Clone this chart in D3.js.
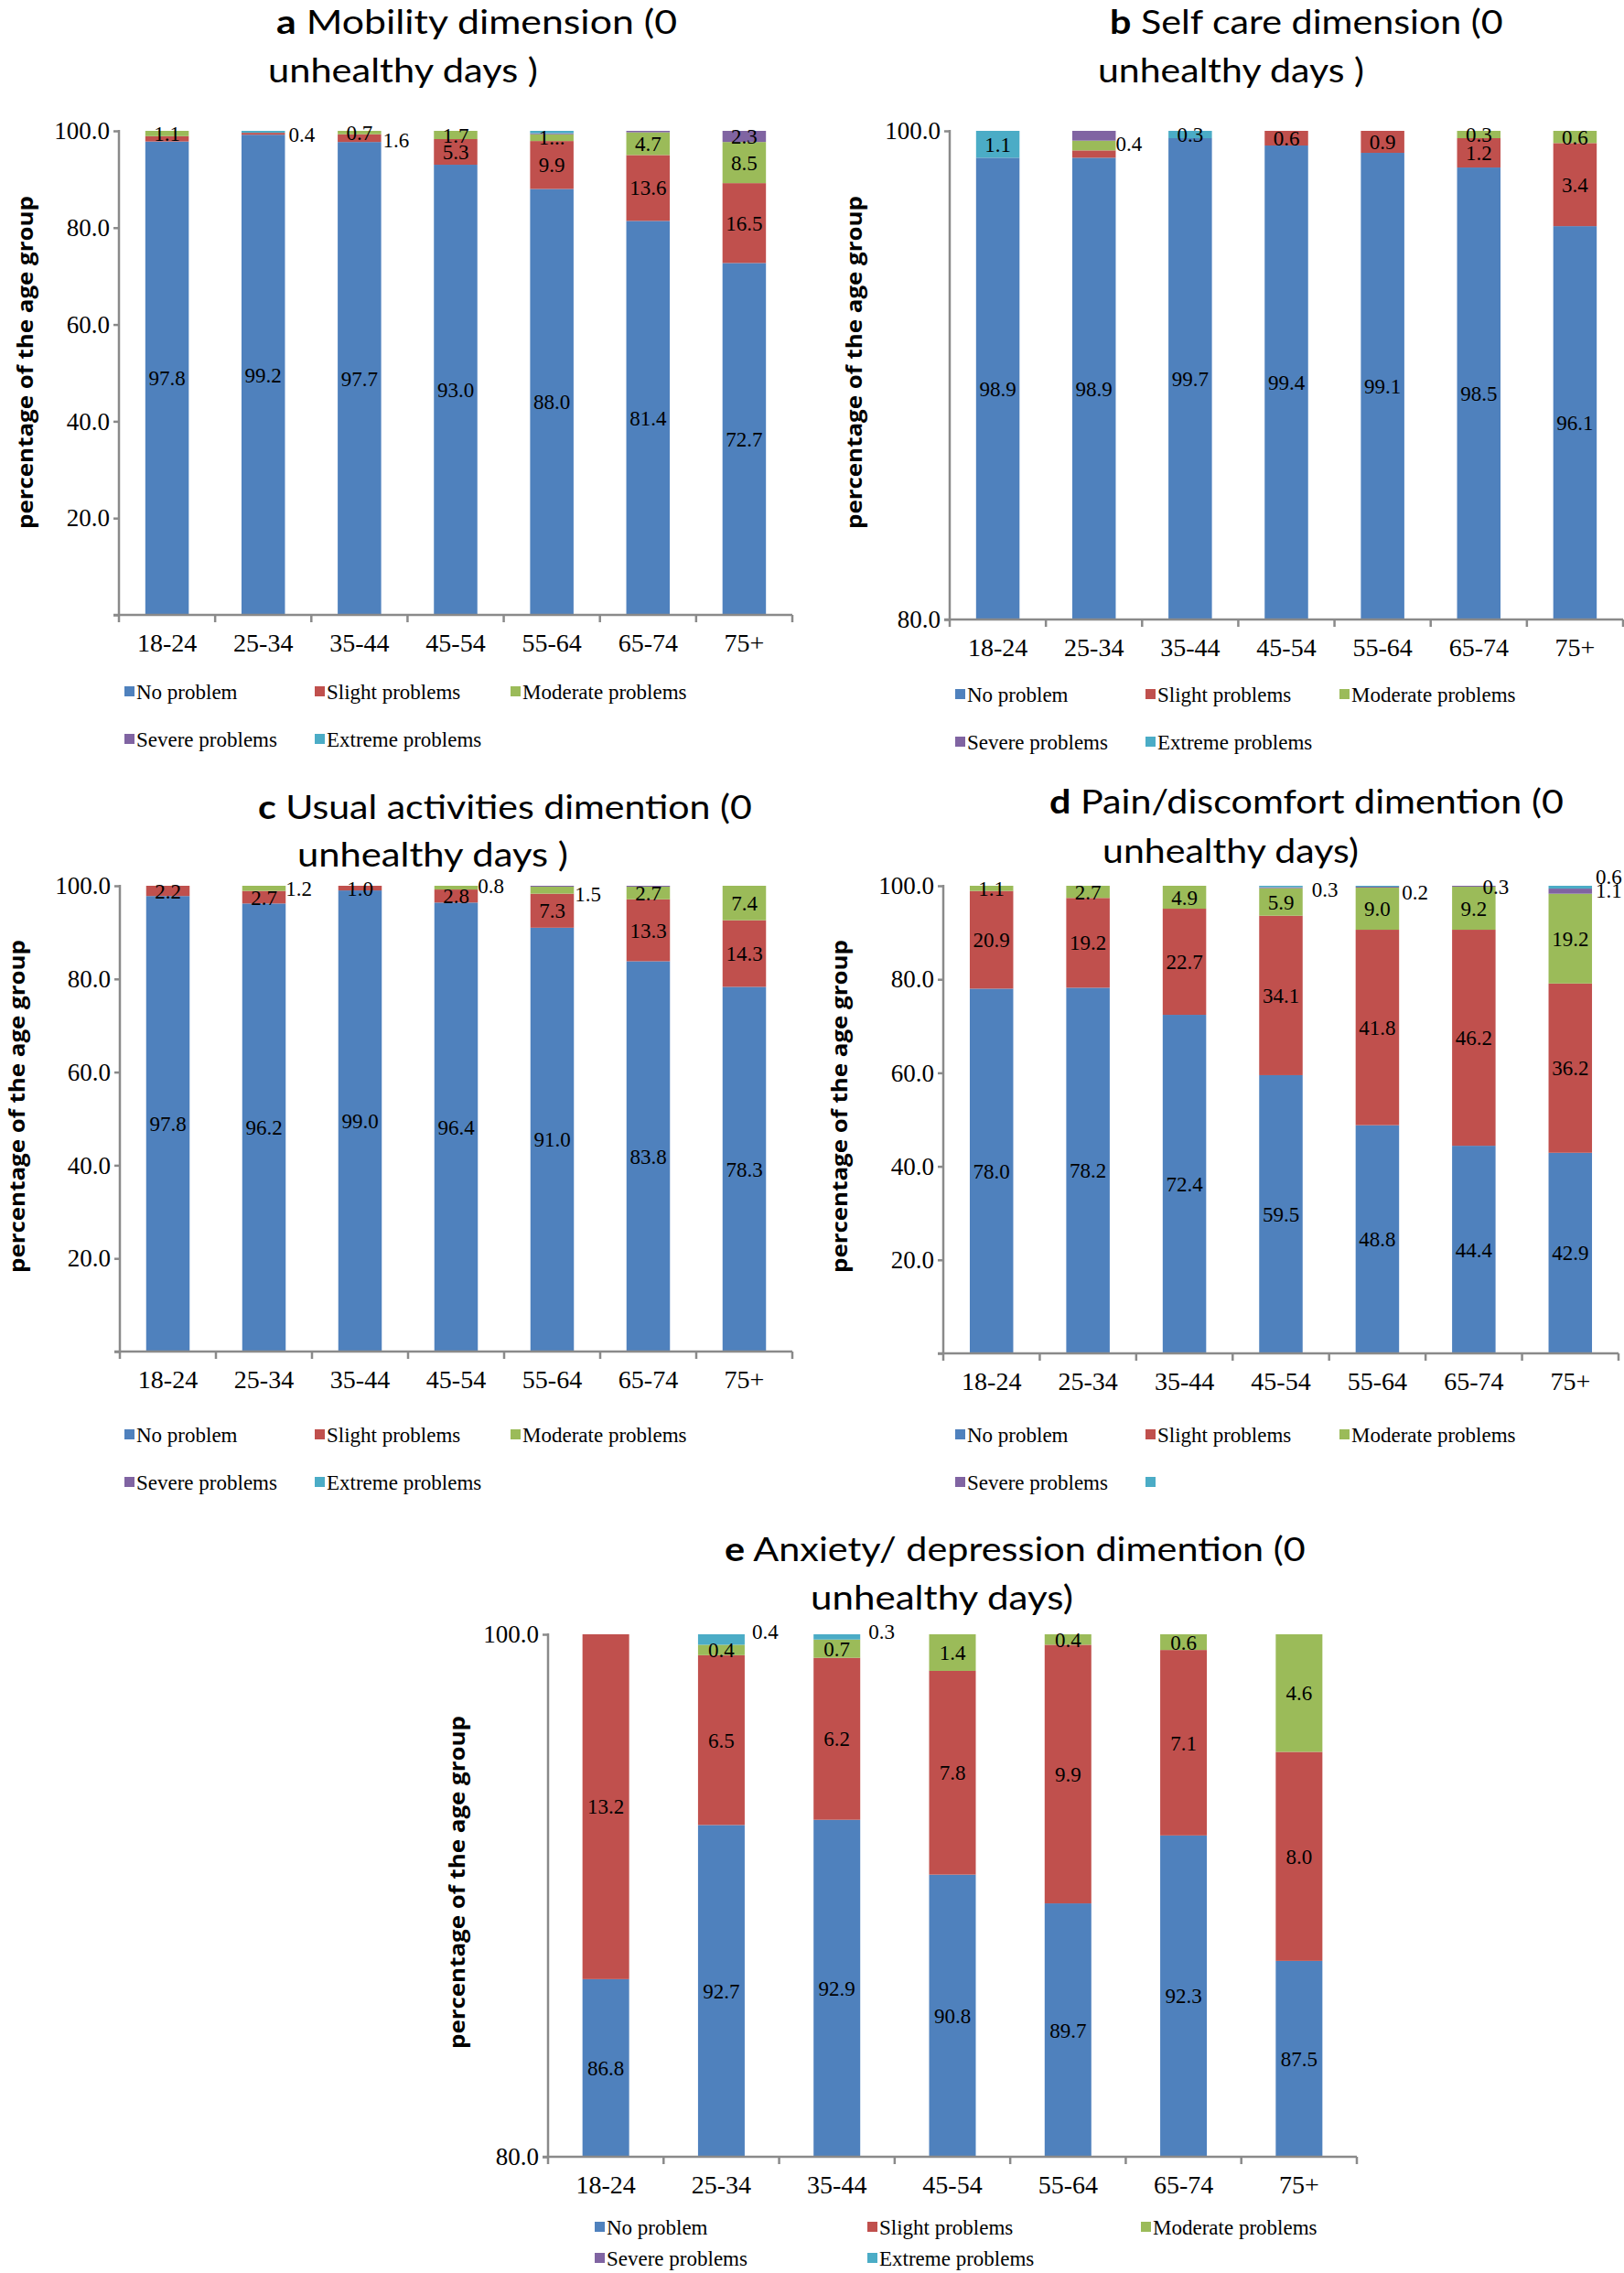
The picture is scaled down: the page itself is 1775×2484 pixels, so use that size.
<!DOCTYPE html>
<html><head><meta charset="utf-8">
<script src="https://cdn.jsdelivr.net/npm/d3@7"></script>
<style>body{margin:0;background:#fff} svg{display:block}</style>
</head><body>
<svg id="chart" width="1775" height="2484"></svg>
<script>
// ---------- DATA ----------
const categories = ["18-24","25-34","35-44","45-54","55-64","65-74","75+"];
const seriesNames = ["No problem","Slight problems","Moderate problems","Severe problems","Extreme problems"];
const seriesColors = ["#4F81BD","#C0504D","#9BBB59","#8064A2","#4BACC6"];

// a Mobility
const mobNo       = [97.8, 99.2, 97.7, 93.0, 88.0, 81.4, 72.7];
const mobSlight   = [1.1, 0.4, 1.6, 5.3, 9.9, 13.6, 16.5];
const mobModerate = [1.1, 0, 0.7, 1.7, 1.4, 4.7, 8.5];
const mobSevere   = [0, 0, 0, 0, 0.2, 0.3, 2.3];
const mobExtreme  = [0, 0.4, 0, 0, 0.5, 0, 0];

// b Self care
const scNo       = [98.9, 98.9, 99.7, 99.4, 99.1, 98.5, 96.1];
const scSlight   = [0, 0.3, 0, 0.6, 0.9, 1.2, 3.4];
const scModerate = [0, 0.4, 0, 0, 0, 0.3, 0.6];
const scSevere   = [0, 0.4, 0, 0, 0, 0, 0];
const scExtreme  = [1.1, 0, 0.3, 0, 0, 0, 0];

// c Usual activities
const uaNo       = [97.8, 96.2, 99.0, 96.4, 91.0, 83.8, 78.3];
const uaSlight   = [2.2, 2.7, 1.0, 2.8, 7.3, 13.3, 14.3];
const uaModerate = [0, 1.2, 0, 0.8, 1.5, 2.7, 7.4];
const uaSevere   = [0, 0, 0, 0, 0.2, 0.2, 0];
const uaExtreme  = [0, 0, 0, 0, 0, 0, 0];

// d Pain/discomfort
const pdNo       = [78.0, 78.2, 72.4, 59.5, 48.8, 44.4, 42.9];
const pdSlight   = [20.9, 19.2, 22.7, 34.1, 41.8, 46.2, 36.2];
const pdModerate = [1.1, 2.7, 4.9, 5.9, 9.0, 9.2, 19.2];
const pdSevere   = [0, 0, 0, 0.2, 0.2, 0.3, 1.1];
const pdExtreme  = [0, 0, 0, 0.3, 0.2, 0, 0.6];

// e Anxiety/depression
const adNo       = [86.8, 92.7, 92.9, 90.8, 89.7, 92.3, 87.5];
const adSlight   = [13.2, 6.5, 6.2, 7.8, 9.9, 7.1, 8.0];
const adModerate = [0, 0.4, 0.7, 1.4, 0.4, 0.6, 4.6];
const adSevere   = [0, 0, 0, 0, 0, 0, 0];
const adExtreme  = [0, 0.4, 0.3, 0, 0, 0, 0];

const ticksFull = [0, 20, 40, 60, 80, 100];
const ticksZoom = [80, 100];

// ---------- LAYOUT / STYLE ----------
const SERIF = "'Liberation Serif','Times New Roman',serif";
const SANS = "Lato,'Open Sans',sans-serif";
const AXIS = "#8a8a8a";

const panels = [
  { letter:"a", t1:" Mobility  dimension (0", t2:"unhealthy days )",
    series:[mobNo,mobSlight,mobModerate,mobSevere,mobExtreme],
    x0:130, x1:866, yTop:143, yBot:672, domain:[0,100], ticks:ticksFull, barW:47.5,
    title:[{x:302,y:37,w:438},{x:293,y:90,w:295}],
    ylab:{x:36,cy:396}, legRows:[756,808], legCols:[136,344,558], legNames:seriesNames,
    hidden:[[0,1],[1,1],[4,3],[5,3],[4,4]],
    outside:[[1,4,4,3],[2,1,2,2]],
    override:[[4,2,"1..."]] },
  { letter:"b", t1:" Self care dimension (0", t2:"unhealthy days )",
    series:[scNo,scSlight,scModerate,scSevere,scExtreme],
    x0:1038, x1:1774, yTop:143, yBot:677, domain:[80,100], ticks:ticksZoom, barW:47.5,
    title:[{x:1213,y:37,w:430},{x:1200,y:90,w:291}],
    ylab:{x:942,cy:396}, legRows:[759,811], legCols:[1044,1252,1464], legNames:seriesNames,
    hidden:[[1,1],[1,3]],
    outside:[[1,2,0,-2]],
    override:[] },
  { letter:"c", t1:" Usual activities dimention (0", t2:"unhealthy days )",
    series:[uaNo,uaSlight,uaModerate,uaSevere,uaExtreme],
    x0:131, x1:866, yTop:968, yBot:1477, domain:[0,100], ticks:ticksFull, barW:47.5,
    title:[{x:282,y:895,w:540},{x:325,y:947,w:296}],
    ylab:{x:27,cy:1209}, legRows:[1568,1620], legCols:[136,344,558], legNames:seriesNames,
    hidden:[[4,3],[5,3]],
    outside:[[1,2,0,0],[3,2,0,-2],[4,2,1,4]],
    override:[] },
  { letter:"d", t1:" Pain/discomfort dimention (0", t2:"unhealthy days)",
    series:[pdNo,pdSlight,pdModerate,pdSevere,pdExtreme],
    x0:1031, x1:1769, yTop:968, yBot:1479, domain:[0,100], ticks:ticksFull, barW:47.5,
    title:[{x:1147,y:889,w:562},{x:1205,y:943,w:280}],
    ylab:{x:926,cy:1209}, legRows:[1568,1620], legCols:[1044,1252,1464],
    legNames:["No problem","Slight problems","Moderate problems","Severe problems",""],
    hidden:[[3,3],[4,4]],
    outside:[[3,4,10,3],[4,3,3,5],[5,3,-14,0],[6,4,4,-12],[6,3,4,-1]],
    override:[] },
  { letter:"e", t1:" Anxiety/ depression dimention (0", t2:"unhealthy days)",
    series:[adNo,adSlight,adModerate,adSevere,adExtreme],
    x0:599, x1:1483, yTop:1786, yBot:2357, domain:[80,100], ticks:ticksZoom, barW:51,
    title:[{x:792,y:1706,w:635},{x:886,y:1759,w:287}],
    ylab:{x:508,cy:2057}, legRows:[2434,2468], legCols:[650,948,1247], legNames:seriesNames,
    hidden:[],
    outside:[[1,4,8,-9],[2,4,9,-6]],
    override:[] }
];

const svg = d3.select("#chart");

function drawPanel(p, pi) {
  const g = svg.append("g");
  const x = d3.scaleBand().domain(categories).range([p.x0, p.x1]).padding(0);
  const y = d3.scaleLinear().domain(p.domain).range([p.yBot, p.yTop]);

  const rows = categories.map((c, i) => {
    const r = {cat: c};
    p.series.forEach((s, k) => r["s" + k] = s[i]);
    return r;
  });
  const keys = p.series.map((s, k) => "s" + k);
  const stacked = d3.stack().keys(keys)(rows);

  const clipId = "clip" + pi;
  g.append("clipPath").attr("id", clipId).append("rect")
    .attr("x", p.x0).attr("y", p.yTop).attr("width", p.x1 - p.x0).attr("height", p.yBot - p.yTop);

  const barsG = g.append("g").attr("clip-path", `url(#${clipId})`);
  stacked.forEach((layer, k) => {
    barsG.selectAll(null).data(layer).join("rect")
      .attr("x", d => x(d.data.cat) + (x.bandwidth() - p.barW) / 2)
      .attr("width", p.barW)
      .attr("y", d => y(d[1]))
      .attr("height", d => Math.max(0, y(d[0]) - y(d[1])))
      .attr("fill", seriesColors[k]);
  });

  // axes
  const yAxis = d3.axisLeft(y).tickValues(p.ticks).tickSize(6).tickSizeOuter(0).tickPadding(4)
    .tickFormat(v => v === 0 ? "" : d3.format(".1f")(v));
  const ya = g.append("g").attr("transform", `translate(${p.x0},0)`).call(yAxis);
  ya.select(".domain").remove();
  ya.selectAll("line").attr("stroke", AXIS).attr("stroke-width", 2.5);
  ya.selectAll("text").attr("font-family", SERIF).attr("font-size", 27).attr("fill", "#000");
  g.append("line").attr("x1", p.x0).attr("x2", p.x0).attr("y1", p.yTop - 1).attr("y2", p.yBot)
    .attr("stroke", AXIS).attr("stroke-width", 2.5);

  const xAxis = d3.axisBottom(x).tickSize(0).tickPadding(20);
  const xa = g.append("g").attr("transform", `translate(0,${p.yBot})`).call(xAxis);
  xa.select(".domain").remove();
  xa.selectAll("text").attr("font-family", SERIF).attr("font-size", 28).attr("fill", "#000");
  g.append("line").attr("x1", p.x0 - 6).attr("x2", p.x1).attr("y1", p.yBot).attr("y2", p.yBot)
    .attr("stroke", AXIS).attr("stroke-width", 2.5);
  const bounds = categories.map(c => x(c)).concat([p.x1]);
  g.selectAll(null).data(bounds).join("line")
    .attr("x1", d => d).attr("x2", d => d).attr("y1", p.yBot).attr("y2", p.yBot + 8)
    .attr("stroke", AXIS).attr("stroke-width", 2.5);

  // data labels
  const isHidden = (i, k) => p.hidden.some(h => h[0] === i && h[1] === k);
  const outsideOf = (i, k) => p.outside.find(o => o[0] === i && o[1] === k);
  const overrideOf = (i, k) => p.override.find(o => o[0] === i && o[1] === k);
  const [dmin, dmax] = p.domain;
  stacked.forEach((layer, k) => {
    layer.forEach((d, i) => {
      const v = p.series[k][i];
      if (!(v > 0) || isHidden(i, k)) return;
      const lo = Math.max(d[0], dmin), hi = Math.min(d[1], dmax);
      const mid = (lo + hi) / 2;
      const ov = overrideOf(i, k);
      const txt = ov ? ov[2] : d3.format(".1f")(v);
      const out = outsideOf(i, k);
      const cx = x(d.data.cat) + x.bandwidth() / 2;
      const t = g.append("text").attr("font-family", SERIF).attr("font-size", 23)
        .attr("fill", "#000").attr("dy", "0.35em").text(txt);
      if (out) {
        t.attr("x", cx + p.barW / 2 + out[2]).attr("y", y(mid) + out[3]).attr("text-anchor", "start");
      } else {
        t.attr("x", cx).attr("y", y(mid)).attr("text-anchor", "middle");
      }
    });
  });

  // title
  [[p.letter, p.t1], [null, p.t2]].forEach((parts, li) => {
    const spec = p.title[li];
    const tg = g.append("g");
    const t = tg.append("text").attr("font-family", SANS).attr("font-size", 37).attr("fill", "#000");
    if (parts[0]) t.append("tspan").attr("font-weight", "bold").text(parts[0]);
    t.append("tspan").text(parts[1]);
    const nat = t.node().getComputedTextLength();
    tg.attr("transform", `translate(${spec.x},${spec.y}) scale(${spec.w / nat},1)`);
  });

  // y label
  const lg = g.append("g");
  const lt = lg.append("text").attr("font-family", "'Open Sans',sans-serif").attr("font-weight", "bold")
    .attr("font-size", 24).attr("text-anchor", "middle").attr("fill", "#000")
    .text("percentage of the age group");
  const natL = lt.node().getComputedTextLength();
  lg.attr("transform", `translate(${p.ylab.x},${p.ylab.cy}) rotate(-90) scale(${364 / natL},1)`);

  // legend
  p.legNames.forEach((name, k) => {
    const row = k < 3 ? 0 : 1, col = k < 3 ? k : k - 3;
    const lx = p.legCols[col], ly = p.legRows[row];
    g.append("rect").attr("x", lx).attr("y", ly - 6).attr("width", 11).attr("height", 11)
      .attr("fill", seriesColors[k]);
    if (name) g.append("text").attr("x", lx + 13).attr("y", ly).attr("dy", "0.35em")
      .attr("font-family", SERIF).attr("font-size", 23).attr("fill", "#000").text(name);
  });
}

panels.forEach(drawPanel);
</script>
</body></html>
